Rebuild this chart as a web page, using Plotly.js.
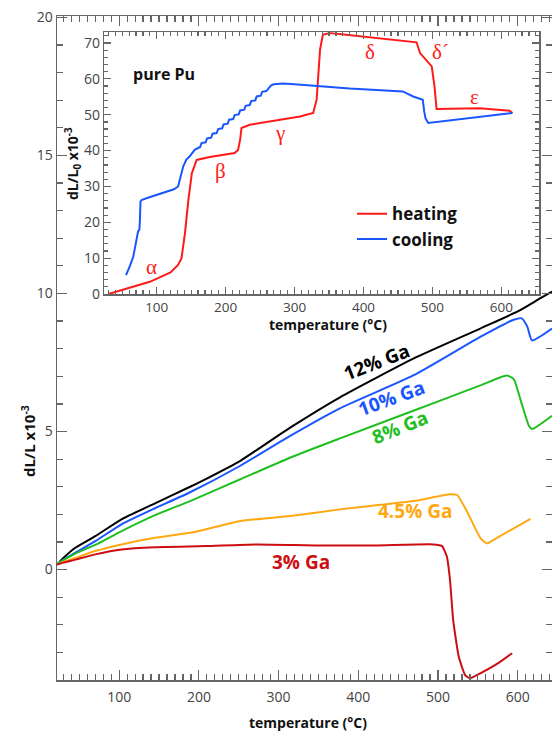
<!DOCTYPE html>
<html>
<head>
<meta charset="utf-8">
<script src="https://cdn.plot.ly/plotly-3.0.1.min.js"></script>
<style>html,body{margin:0;padding:0;background:#fff;}#chart{width:552px;height:731px;}</style>
</head>
<body>
<div id="chart"></div>
<script>
// ---- main plot: Pu-Ga alloys, dL/L x10^-3 vs temperature (°C)
const T12 = [22, 30, 45, 70, 103, 145, 189, 208, 252, 315, 377, 469, 553, 600, 628, 643];
const v12 = [0.18, 0.42, 0.79, 1.21, 1.82, 2.4, 3.0, 3.27, 3.94, 5.15, 6.24, 7.64, 8.73, 9.35, 9.82, 10.07];

const T10 = [22, 30, 45, 70, 103, 145, 189, 252, 315, 377, 469, 553, 595, 605, 612, 618, 643];
const v10 = [0.18, 0.36, 0.61, 1.03, 1.64, 2.22, 2.8, 3.76, 4.85, 5.84, 7.03, 8.43, 9.05, 9.1, 8.8, 8.3, 8.73];

const T8 = [22, 30, 45, 74, 103, 145, 189, 252, 315, 377, 469, 553, 586, 595, 605, 614, 618, 643];
const v8 = [0.18, 0.34, 0.58, 0.95, 1.39, 1.97, 2.48, 3.27, 4.06, 4.75, 5.75, 6.67, 7.03, 6.9, 6.0, 5.21, 5.09, 5.57];

const T45 = [22, 30, 45, 70, 103, 145, 189, 208, 252, 315, 377, 469, 515, 524, 536, 553, 561, 574, 616];
const v45 = [0.18, 0.28, 0.42, 0.67, 0.91, 1.15, 1.33, 1.45, 1.76, 1.94, 2.18, 2.48, 2.73, 2.7, 2.12, 1.15, 0.95, 1.15, 1.84];

const T3 = [22, 30, 45, 70, 103, 145, 208, 273, 350, 420, 494, 505, 511, 515, 519, 526, 534, 540, 553, 575, 593];
const v3 = [0.18, 0.25, 0.36, 0.55, 0.73, 0.81, 0.85, 0.91, 0.87, 0.87, 0.91, 0.85, 0.48, -0.36, -1.82, -3.15, -3.82, -3.94, -3.76, -3.4, -3.03];

const gaLabels = ["12% Ga", "10% Ga", "8% Ga", "4.5% Ga", "3% Ga"];

// ---- inset: pure Pu, dL/L0 x10^-3
const Th = [30, 60, 90, 120, 131, 136, 141, 146, 151, 158, 177, 213, 218, 221, 223, 235, 279, 308, 327, 332, 337, 341, 351, 477, 482, 491, 499, 503, 506, 569, 612, 616];
const vh = [0, 1.6, 3.4, 6.0, 8.1, 10.0, 17, 26.3, 33.7, 37.4, 38.2, 39.3, 40.2, 43, 46.3, 47.2, 48.6, 49.5, 50.5, 54.2, 68.2, 72.3, 72.8, 70.2, 67.2, 65.4, 63.5, 57.9, 51.6, 51.8, 51.1, 50.5];

const Tc = [616, 560, 494, 490, 488, 486, 472, 457, 380, 300, 283, 270, 266, 259, 253, 251, 245, 243, 237, 235, 229, 227, 221, 219, 213, 211, 205, 203, 197, 195, 189, 187, 181, 179, 173, 171, 165, 163, 155, 148, 143, 138.5, 134, 131, 125, 114.5, 100, 85, 78, 76.5, 75.5, 74.8, 73, 72, 70, 66, 61, 55.5];
const vc = [50.5, 49.2, 47.7, 49, 51, 54.2, 55.1, 56.5, 57.3, 58.5, 58.7, 58.5, 58.2, 56.6, 56.4, 55.3, 55.1, 54.0, 53.8, 52.7, 52.5, 51.4, 51.2, 50.1, 49.9, 48.8, 48.6, 47.5, 47.3, 46.2, 46.0, 44.9, 44.7, 43.6, 43.4, 42.3, 42.1, 41.0, 40.2, 38.4, 37.5, 35.6, 32.5, 30, 29.2, 28.6, 27.6, 26.7, 26.2, 25.8, 20, 17.9, 17.5, 16.5, 14, 10.4, 7.8, 5.3];

const phaseLabels = ["α", "β", "γ", "δ", "δ´", "ε"];
const phaseT = [93, 192, 279, 409, 512, 561];
const phaseV = [7.6, 34.2, 45, 67.6, 67.6, 55];

const FONT = "Open Sans, Lato, sans-serif";
const cBlack = "#000000", cBlue = "#1a56ff", cGreen = "#1fbf1f", cOrange = "#ffa812", cDark = "#cc0d12";
const cRed = "#ff1a1a";

function mainTrace(x, y, color) {
  return {x: x, y: y, xaxis: "x", yaxis: "y", mode: "lines",
    line: {color: color, width: 2, shape: "spline", smoothing: 0.5}, showlegend: false, hoverinfo: "skip"};
}

const data = [
  mainTrace(T12, v12, cBlack),
  mainTrace(T10, v10, cBlue),
  mainTrace(T8, v8, cGreen),
  mainTrace(T45, v45, cOrange),
  mainTrace(T3, v3, cDark),
  {x: Th, y: vh, xaxis: "x2", yaxis: "y2", mode: "lines", name: "heating", line: {color: cRed, width: 2}},
  {x: Tc, y: vc, xaxis: "x2", yaxis: "y2", mode: "lines", name: "cooling", line: {color: cBlue, width: 2}}
];

const axCommon = {
  showline: true, linecolor: "#666", linewidth: 1.5, mirror: "ticks",
  ticks: "inside", tickcolor: "#666", tickwidth: 1.2,
  showgrid: false, zeroline: false,
  tickfont: {family: FONT, size: 14, color: "#444"}
};

const gaPos = [[422.5, 7.53, -21, cBlack], [442, 6.2, -20, cBlue], [452.6, 5.15, -22, cGreen], [471.4, 2.12, 0, cOrange], [328, 0.29, 0, cDark]];

const annotations = [];
gaLabels.forEach((t, i) => {
  annotations.push({xref: "x", yref: "y", x: gaPos[i][0], y: gaPos[i][1], xanchor: "center", yanchor: "middle",
    text: "<b>" + t + "</b>", showarrow: false,
    textangle: gaPos[i][2], font: {family: FONT, size: 19, color: gaPos[i][3]}});
});
phaseLabels.forEach((t, i) => {
  annotations.push({xref: "x2", yref: "y2", x: phaseT[i], y: phaseV[i], xanchor: "center", yanchor: "middle",
    text: t, showarrow: false,
    font: {family: "Liberation Serif, DejaVu Serif, serif", size: 21, color: cRed}});
});
const ann = (x, y, text, size, angle) => ({xref: "paper", yref: "paper", x: x, y: y, xanchor: "center", yanchor: "middle",
  text: text, textangle: angle || 0, showarrow: false, font: {family: FONT, size: size, color: "#111"}});
annotations.push(
  ann(0.507, -0.0633, "<b>temperature (°C)</b>", 14),
  ann(-0.0566, 0.36, "<b>dL/L x10<sup>-3</sup></b>", 15, -90),
  ann(0.5475, 0.536, "<b>temperature (°C)</b>", 14),
  ann(0.0323, 0.7786, "<b>dL/L<sub>0</sub> x10<sup>-3</sup></b>", 14, -90),
  ann(0.216, 0.9127, "<b>pure Pu</b>", 16)
);

const layout = {
  width: 552, height: 731,
  margin: {l: 57, r: 0, t: 16, b: 51},
  paper_bgcolor: "#fff", plot_bgcolor: "rgba(0,0,0,0)",
  font: {family: FONT},
  xaxis: Object.assign({}, axCommon, {range: [22, 643], domain: [0, 1], anchor: "y", dtick: 100, tick0: 0, ticklen: 10,
    ticklabelstandoff: 4, minor: {ticks: "inside", dtick: 10, ticklen: 6, tickcolor: "#666", tickwidth: 1.2}}),
  yaxis: Object.assign({}, axCommon, {range: [-4, 20.05], domain: [0, 1], anchor: "x", dtick: 5, tick0: 0, ticklen: 10,
    minor: {ticks: "inside", dtick: 1, ticklen: 6, tickcolor: "#666", tickwidth: 1.2}}),
  xaxis2: Object.assign({}, axCommon, {range: [24, 655], domain: [0.0956, 0.9743], anchor: "y2", dtick: 100, tick0: 0, ticklen: 7,
    tickfont: {family: FONT, size: 13.5, color: "#444"},
    minor: {ticks: "inside", dtick: 10, ticklen: 4, tickcolor: "#666", tickwidth: 1.2}}),
  yaxis2: Object.assign({}, axCommon, {range: [0, 73], domain: [0.5813, 0.9755], anchor: "x2", dtick: 10, tick0: 0, ticklen: 7,
    minor: {ticks: "inside", dtick: 2, ticklen: 4, tickcolor: "#666", tickwidth: 1.2}}),
  showlegend: true,
  legend: {x: 0.596, y: 0.7285, xanchor: "left", yanchor: "top", bgcolor: "rgba(0,0,0,0)",
    font: {family: FONT, size: 17, color: "#111", weight: "bold"}},
  annotations: annotations
};

Plotly.newPlot("chart", data, layout, {displayModeBar: false, staticPlot: true});
</script>
</body>
</html>
